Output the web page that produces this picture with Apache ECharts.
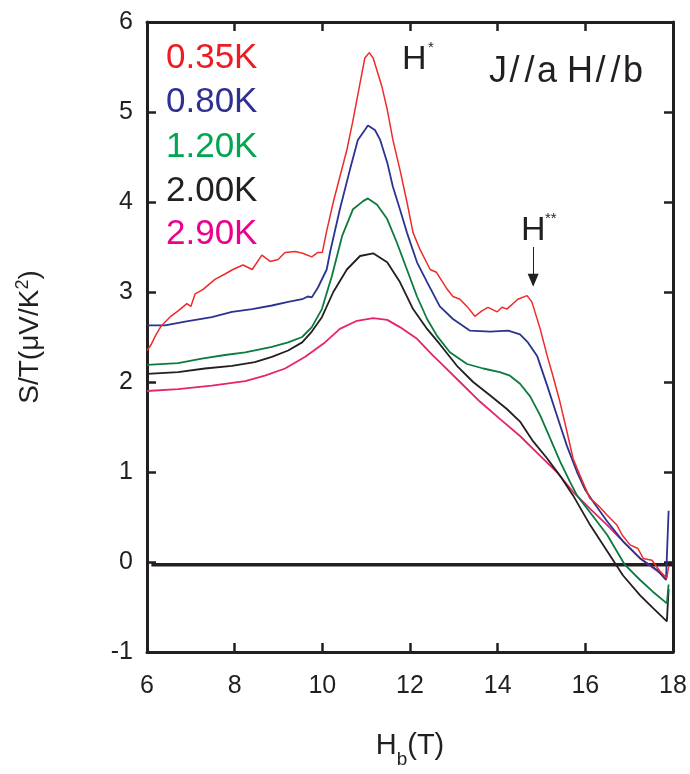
<!DOCTYPE html>
<html>
<head>
<meta charset="utf-8">
<script src="https://cdn.jsdelivr.net/npm/echarts@6/dist/echarts.min.js"></script>
<style>html,body{margin:0;padding:0;background:#fff}#c{width:690px;height:774px}</style>
</head>
<body>
<div id="c"></div>
<script>
// ---- data (H in tesla, S/T in µV/K²) ----
const seriesNames = ['0.35K', '0.80K', '1.20K', '2.00K', '2.90K'];
const xTicks = [6, 8, 10, 12, 14, 16, 18];
const yTicks = [-1, 0, 1, 2, 3, 4, 5, 6];

const red035 = [[6.0,2.35],[6.1,2.42],[6.2,2.52],[6.32,2.62],[6.52,2.72],[6.71,2.79],[6.91,2.87],[7.0,2.84],[7.1,2.98],[7.28,3.03],[7.55,3.14],[7.78,3.2],[7.96,3.25],[8.19,3.30],[8.4,3.25],[8.62,3.41],[8.81,3.34],[8.99,3.36],[9.15,3.44],[9.38,3.45],[9.55,3.43],[9.76,3.39],[9.9,3.44],[10.0,3.44],[10.1,3.68],[10.25,4.0],[10.4,4.28],[10.56,4.58],[10.7,4.91],[10.86,5.32],[10.97,5.60],[11.07,5.66],[11.16,5.60],[11.36,5.28],[11.48,5.03],[11.61,4.69],[11.77,4.36],[11.93,4.0],[12.07,3.66],[12.23,3.47],[12.46,3.25],[12.6,3.22],[12.85,3.03],[12.98,2.95],[13.14,2.92],[13.3,2.84],[13.48,2.73],[13.64,2.79],[13.78,2.83],[13.99,2.78],[14.1,2.83],[14.21,2.81],[14.46,2.92],[14.67,2.96],[14.78,2.89],[14.97,2.59],[15.13,2.29],[15.26,2.07],[15.42,1.78],[15.58,1.45],[15.72,1.15],[15.88,0.96],[16.1,0.71],[16.29,0.63],[16.5,0.52],[16.72,0.41],[16.84,0.30],[17.02,0.19],[17.2,0.15],[17.32,0.04],[17.52,0.02],[17.7,-0.10],[17.86,-0.18],[17.9,-0.05]];

const blue080 = [[6.0,2.63],[6.41,2.63],[6.87,2.67],[7.48,2.72],[7.94,2.78],[8.4,2.81],[8.85,2.85],[9.22,2.89],[9.54,2.92],[9.67,2.95],[9.76,2.94],[9.9,3.05],[10.1,3.25],[10.18,3.45],[10.4,3.92],[10.63,4.36],[10.81,4.69],[10.97,4.80],[11.04,4.85],[11.2,4.80],[11.32,4.69],[11.48,4.44],[11.61,4.17],[11.77,3.92],[11.93,3.66],[12.16,3.33],[12.39,3.11],[12.68,2.84],[12.98,2.70],[13.37,2.57],[13.83,2.56],[14.24,2.57],[14.51,2.53],[14.69,2.44],[14.9,2.29],[15.13,1.96],[15.35,1.63],[15.58,1.29],[15.81,1.0],[16.0,0.8],[16.18,0.67],[16.5,0.45],[16.86,0.23],[17.25,0.04],[17.64,-0.09],[17.84,-0.2],[17.88,-0.18],[17.9,0.57]];

const green120 = [[6.0,2.19],[6.71,2.21],[7.25,2.26],[7.78,2.30],[8.24,2.33],[8.85,2.39],[9.22,2.44],[9.54,2.50],[9.76,2.61],[9.99,2.81],[10.22,3.18],[10.45,3.62],[10.7,3.92],[10.93,4.01],[11.04,4.04],[11.25,3.97],[11.48,3.81],[11.7,3.55],[11.93,3.25],[12.16,2.95],[12.39,2.70],[12.62,2.51],[12.91,2.33],[13.30,2.20],[13.67,2.15],[14.05,2.11],[14.28,2.07],[14.51,1.98],[14.74,1.84],[14.97,1.63],[15.2,1.37],[15.42,1.12],[15.65,0.89],[15.81,0.74],[16.11,0.55],[16.5,0.30],[16.9,-0.03],[17.25,-0.2],[17.54,-0.33],[17.86,-0.46],[17.9,-0.25]];

const black200 = [[6.0,2.09],[6.71,2.11],[7.32,2.15],[7.94,2.18],[8.46,2.22],[8.85,2.28],[9.22,2.35],[9.54,2.44],[9.76,2.56],[9.99,2.72],[10.25,3.0],[10.56,3.25],[10.86,3.40],[11.16,3.43],[11.48,3.33],[11.77,3.11],[12.07,2.81],[12.39,2.59],[12.68,2.42],[13.07,2.18],[13.44,2.0],[13.83,1.85],[14.21,1.70],[14.51,1.56],[14.81,1.34],[15.13,1.15],[15.42,0.96],[15.72,0.74],[16.11,0.41],[16.5,0.12],[16.86,-0.15],[17.25,-0.37],[17.54,-0.51],[17.86,-0.66],[17.9,-0.3]];

const magenta290 = [[6.0,1.90],[6.71,1.92],[7.48,1.96],[8.24,2.01],[8.69,2.07],[9.15,2.15],[9.61,2.28],[10.06,2.44],[10.4,2.59],[10.79,2.68],[11.16,2.71],[11.48,2.69],[11.77,2.61],[12.16,2.48],[12.53,2.29],[12.68,2.22],[13.14,2.0],[13.6,1.78],[14.05,1.59],[14.51,1.40],[14.97,1.18],[15.35,1.0],[15.72,0.78],[16.11,0.59],[16.5,0.41],[16.86,0.23],[17.25,0.04],[17.64,-0.10],[17.86,-0.18]];

const zeroLine = [[6.1,-0.03],[18,-0.03]];
const hStarStar = [[14.81,3.50],[14.81,3.13]];

// ---- styling ----
const FONT = '"Liberation Sans", Arial, Helvetica, sans-serif';
const INK = '#231f20';
const lineColors = ['#ee2a2a', '#2b3390', '#0b7b3e', '#231f20', '#e6236f'];
const textColors = ['#ed1c24', '#2e3192', '#00a651', '#231f20', '#ec008c'];
const seriesData = [red035, blue080, green120, black200, magenta290];
const widths = [1.5, 1.8, 1.8, 1.8, 1.8];

const chart = echarts.init(document.getElementById('c'), null, {renderer: 'canvas'});

const axisCommon = {
  type: 'value', min: 6, max: 18, interval: 2,
  axisLine: {show: true, onZero: false, lineStyle: {color: INK, width: 3}},
  axisTick: {show: true, inside: true, length: 9, lineStyle: {color: INK, width: 2.5}},
  splitLine: {show: false}
};
const yCommon = {
  type: 'value', min: -1, max: 6, interval: 1,
  axisLine: {show: true, onZero: false, lineStyle: {color: INK, width: 3}},
  axisTick: {show: true, inside: true, length: 9, lineStyle: {color: INK, width: 2.5}},
  splitLine: {show: false}
};

const series = [];
const order = [4, 3, 2, 1, 0];
order.forEach(i => {
  series.push({
    type: 'line', name: seriesNames[i], data: seriesData[i], showSymbol: false,
    lineStyle: {color: lineColors[i], width: widths[i]}, z: 3 + (4 - i), silent: true
  });
});
series.push({
  type: 'line', data: zeroLine, showSymbol: false, silent: true, z: 2,
  lineStyle: {color: INK, width: 3.5}
});
series.push({
  type: 'line', data: [], showSymbol: false, silent: true,
  markLine: {
    silent: true, symbol: ['none', 'triangle'], symbolSize: [11, 13],
    lineStyle: {color: INK, width: 1, type: 'solid'}, label: {show: false},
    data: [[{coord: hStarStar[0]}, {coord: hStarStar[1]}]]
  }
});

const legendY = [59, 103, 148, 192, 235];
const graphics = seriesNames.map((n, i) => ({
  type: 'text', left: 166, top: legendY[i] - 18,
  style: {text: n, fill: textColors[i], font: '35px ' + FONT}
}));
graphics.push(
  {type: 'text', left: 402, top: 43, style: {text: 'H', fill: INK, font: '34px ' + FONT}},
  {type: 'text', left: 428, top: 40, style: {text: '*', fill: INK, font: '15px ' + FONT}},
  {type: 'text', left: 489, top: 54, style: {
    text: 'J{s|/}{s|/}a H{s|/}{s|/}b', fill: INK, font: '36px ' + FONT,
    rich: {s: {fontSize: 36, fontFamily: FONT, fill: INK, padding: [0, 2.5, 0, 2.5]}}
  }},
  {type: 'text', left: 521, top: 214, style: {text: 'H', fill: INK, font: '34px ' + FONT}},
  {type: 'text', left: 545, top: 211, style: {text: '**', fill: INK, font: '15px ' + FONT}}
);

chart.setOption({
  animation: false,
  backgroundColor: '#fff',
  grid: {left: 147, right: 17, top: 22, bottom: 120, containLabel: false},
  xAxis: [
    Object.assign({}, axisCommon, {
      position: 'bottom',
      axisLabel: {show: true, color: INK, fontSize: 25, fontFamily: FONT, margin: 22},
      name: 'H{sub|b}(T)', nameLocation: 'middle', nameGap: 70,
      nameTextStyle: {color: INK, fontSize: 29, fontFamily: FONT,
        rich: {sub: {fontSize: 19, fontFamily: FONT, color: INK, verticalAlign: 'bottom', padding: [28, 0, 0, 0]}}}
    }),
    Object.assign({}, axisCommon, {position: 'top', axisLabel: {show: false}})
  ],
  yAxis: [
    Object.assign({}, yCommon, {
      position: 'left',
      axisLabel: {show: true, color: INK, fontSize: 25, fontFamily: FONT, margin: 14},
      name: 'S/T(μV/K{sup|2})', nameLocation: 'middle', nameGap: 101, nameRotate: 90,
      nameTextStyle: {color: INK, fontSize: 28, fontFamily: FONT,
        rich: {sup: {fontSize: 18, fontFamily: FONT, color: INK, verticalAlign: 'top', padding: [0, 0, 14, 0]}}}
    }),
    Object.assign({}, yCommon, {position: 'right', axisLabel: {show: false}})
  ],
  series: series,
  graphic: graphics
});
</script>
</body>
</html>
